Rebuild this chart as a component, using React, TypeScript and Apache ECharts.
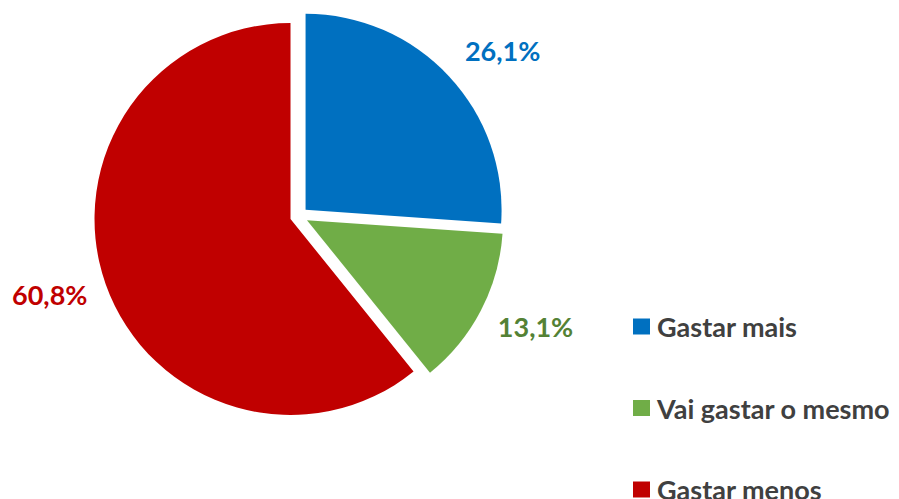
import React, { useEffect, useRef } from "react";
import * as echarts from "echarts";

const categories = ["Gastar mais", "Vai gastar o mesmo", "Gastar menos"];
const values = [26.1, 13.1, 60.8];
const sliceColors = ["#0070C0", "#70AD47", "#C00000"];
const labelColors = ["#0070C0", "#548235", "#C00000"];
const lineLen = [37, 35, 31];
const lineLen2 = [-16, -19, -16];

export default function App() {
  const ref = useRef<HTMLDivElement>(null);
  useEffect(() => {
    const chart = echarts.init(ref.current!, null, { renderer: "svg" });
    chart.setOption({
      animation: false,
      legend: {
        orient: "vertical",
        left: 633,
        top: 310,
        height: 300,
        padding: 0,
        itemWidth: 17,
        itemHeight: 16,
        itemGap: 48.5,
        icon: "rect",
        selectedMode: false,
        data: categories,
        textStyle: {
          fontFamily: "Lato",
          fontWeight: "bold",
          fontSize: 27,
          lineHeight: 33,
          color: "#404040",
          padding: [0, 0, 0, 2],
        },
      },
      series: [
        {
          type: "pie",
          center: [299, 216],
          radius: 196,
          startAngle: 90,
          selectedMode: "multiple",
          selectedOffset: 9,
          emphasis: { disabled: true },
          label: {
            show: true,
            position: "outside",
            fontFamily: "Lato",
            fontWeight: "bold",
            fontSize: 27,
            distanceToLabelLine: 5,
            formatter: (p: any) => p.value.toFixed(1).replace(".", ",") + "%",
          },
          labelLine: { show: false, length: 22, length2: 0 },
          data: categories.map((name, i) => ({
            name,
            value: values[i],
            selected: true,
            itemStyle: { color: sliceColors[i] },
            label: { color: labelColors[i] },
            labelLine: { show: false, length: lineLen[i], length2: lineLen2[i] },
          })),
        },
      ],
    });
    return () => chart.dispose();
  }, []);
  return (
    <div
      ref={ref}
      style={{ position: "fixed", left: 0, top: 0, width: 899, height: 499, background: "#fff" }}
    />
  );
}
